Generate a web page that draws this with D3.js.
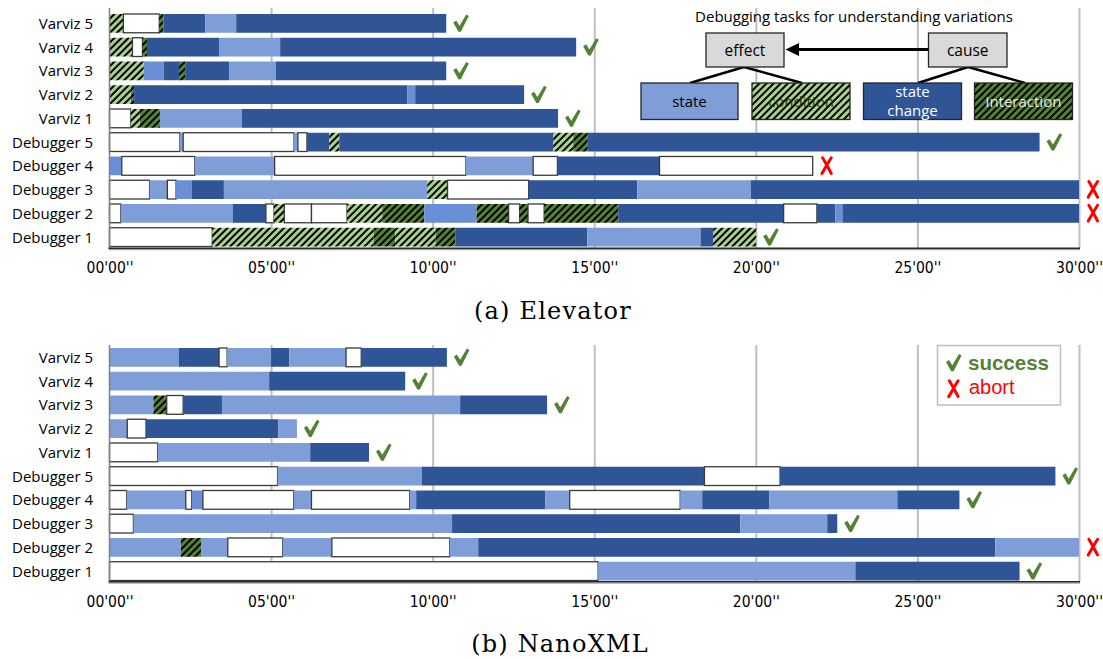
<!DOCTYPE html>
<html>
<head>
<meta charset="utf-8">
<script src="https://cdn.jsdelivr.net/npm/d3@7"></script>
<style>
  html, body { margin: 0; padding: 0; background: #fff; }
  svg { display: block; }
</style>
</head>
<body>
<svg id="chart" width="1103" height="659"></svg>
<script>
// Participants, top to bottom
const rowLabels = ["Varviz 5", "Varviz 4", "Varviz 3", "Varviz 2", "Varviz 1",
                   "Debugger 5", "Debugger 4", "Debugger 3", "Debugger 2", "Debugger 1"];

// Axis ticks in minutes
const tickMinutes = [0, 5, 10, 15, 20, 25, 30];

// Activity kinds: state, stateMid (state, second shade), condition, change (state change),
// interaction, other (no debugging task)
// Each segment: [kind, start minute, end minute]
const elevatorSegments = [
  [["condition",0,0.43],["other",0.43,1.54],["interaction",1.54,1.67],["change",1.67,2.96],["state",2.96,3.92],["change",3.92,10.42]],
  [["condition",0,0.71],["other",0.71,1.02],["interaction",1.02,1.16],["change",1.16,3.39],["state",3.39,5.28],["change",5.28,14.44]],
  [["condition",0,1.06],["stateMid",1.06,1.68],["change",1.68,2.15],["interaction",2.15,2.34],["change",2.34,3.70],["state",3.70,5.15],["change",5.15,10.42]],
  [["condition",0,0.66],["interaction",0.66,0.76],["change",0.76,9.22],["stateMid",9.22,9.46],["change",9.46,12.83]],
  [["other",0,0.66],["condition",0.66,0.94],["interaction",0.94,1.56],["state",1.56,4.10],["change",4.10,13.88]],
  [["other",0,2.18],["state",2.18,2.28],["other",2.28,5.71],["state",5.71,5.83],["other",5.83,6.11],["change",6.11,6.80],["condition",6.80,7.11],["change",7.11,13.73],["condition",13.73,14.35],["interaction",14.35,14.80],["change",14.80,28.78]],
  [["stateMid",0,0.38],["other",0.38,2.64],["state",2.64,5.11],["other",5.11,11.03],["state",11.03,13.11],["other",13.11,13.86],["change",13.86,17.02],["other",17.02,21.76]],
  [["other",0,1.24],["state",1.24,1.79],["other",1.79,2.06],["stateMid",2.06,2.55],["change",2.55,3.54],["state",3.54,9.83],["condition",9.83,10.46],["other",10.46,12.97],["change",12.97,16.33],["state",16.33,19.85],["change",19.85,30]],
  [["other",0,0.35],["state",0.35,3.82],["change",3.82,4.84],["other",4.84,5.09],["condition",5.09,5.41],["other",5.41,6.25],["other",6.25,7.35],["condition",7.35,8.44],["interaction",8.44,9.74],["stateMid",9.74,11.36],["interaction",11.36,12.35],["other",12.35,12.69],["interaction",12.69,12.95],["other",12.95,13.45],["interaction",13.45,15.74],["change",15.74,20.86],["other",20.86,21.89],["change",21.89,22.46],["stateMid",22.46,22.68],["change",22.68,30]],
  [["other",0,3.18],["condition",3.18,8.17],["interaction",8.17,8.84],["condition",8.84,10.09],["interaction",10.09,10.70],["change",10.70,14.78],["state",14.78,18.29],["change",18.29,18.68],["condition",18.68,20.01]]
];
const elevatorOutcomes = ["success","success","success","success","success","success","abort","abort","abort","success"];

const nanoSegments = [
  [["state",0,2.15],["change",2.15,3.39],["other",3.39,3.64],["state",3.64,5.00],["change",5.00,5.56],["state",5.56,7.32],["other",7.32,7.79],["change",7.79,10.44]],
  [["state",0,4.94],["change",4.94,9.15]],
  [["state",0,1.36],["interaction",1.36,1.77],["other",1.77,2.28],["change",2.28,3.48],["state",3.48,10.85],["change",10.85,13.54]],
  [["state",0,0.55],["other",0.55,1.13],["change",1.13,5.22],["state",5.22,5.80]],
  [["other",0,1.49],["state",1.49,6.21],["change",6.21,8.03]],
  [["other",0,5.20],["state",5.20,9.67],["change",9.67,18.41],["other",18.41,20.75],["change",20.75,29.27]],
  [["other",0,0.53],["state",0.53,2.36],["other",2.36,2.54],["stateMid",2.54,2.89],["other",2.89,5.70],["state",5.70,6.25],["other",6.25,9.29],["state",9.29,9.49],["change",9.49,13.48],["state",13.48,14.24],["other",14.24,17.66],["state",17.66,18.34],["change",18.34,20.42],["state",20.42,24.38],["change",24.38,26.30]],
  [["other",0,0.74],["state",0.74,10.60],["change",10.60,19.52],["state",19.52,22.21],["change",22.21,22.52]],
  [["state",0,2.21],["interaction",2.21,2.83],["state",2.83,3.66],["other",3.66,5.36],["state",5.36,6.88],["other",6.88,10.53],["state",10.53,11.41],["change",11.41,27.41],["state",27.41,30]],
  [["other",0,15.12],["state",15.12,23.08],["change",23.08,28.16]]
];
const nanoOutcomes = ["success","success","success","success","success","success","success","success","abort","success"];

const kindFill = {
  state: "#7F9ED7",
  stateMid: "#6A8FD6",
  change: "#2F5597",
  condition: "url(#hatchCondition)",
  interaction: "url(#hatchInteraction)",
  other: "#FFFFFF"
};
const green = "#548235";
const red = "#FF0000";

// Outcome glyphs drawn as paths (about 15 x 17 px, origin at top-left)
const checkPath = "M0,8 L3,6 L6.3,11.2 L13,0 L15.6,1.6 L7.6,17.2 L5.2,17.2 Z";
const crossPath = "M1.8,0.8 C4.5,5 7.5,11 10.6,16.4 M10.6,0.8 C7.2,6 4.6,11 1.2,16.6";

const svg = d3.select("#chart");
const defs = svg.append("defs");

function hatch(id, bg) {
  const p = defs.append("pattern")
    .attr("id", id)
    .attr("patternUnits", "userSpaceOnUse")
    .attr("width", 5).attr("height", 5)
    .attr("patternTransform", "rotate(45)");
  p.append("rect").attr("width", 5).attr("height", 5).attr("fill", bg);
  p.append("line").attr("x1", 1).attr("y1", 0).attr("x2", 1).attr("y2", 5)
    .attr("stroke", "#000").attr("stroke-width", 2);
}
hatch("hatchCondition", "#A9D18E");
hatch("hatchInteraction", "#548235");

function drawMark(sel, outcome) {
  if (outcome === "success") {
    sel.append("path").attr("d", checkPath).attr("fill", green);
  } else {
    sel.append("path").attr("d", crossPath).attr("fill", "none")
      .attr("stroke", red).attr("stroke-width", 3).attr("stroke-linecap", "round");
  }
}

const x = d3.scaleLinear().domain([0, 30]).range([109.5, 1079]);

function fmtTick(m) {
  return d3.format("02d")(m) + "'00''";
}

function drawPanel(opts) {
  const { segments, outcomes, bandTop, bandBottom, axisY, gridTop, caption, captionX, captionY, tickY } = opts;
  const g = svg.append("g");
  const y = d3.scaleBand().domain(rowLabels).range([bandTop, bandBottom])
    .paddingInner(0.21).paddingOuter(0);

  // vertical gridlines
  const grid = g.append("g").attr("transform", `translate(0,${axisY})`)
    .call(d3.axisBottom(x).tickValues(tickMinutes.slice(1)).tickSize(-(axisY - gridTop)).tickFormat(""));
  grid.select(".domain").remove();
  grid.selectAll(".tick line").attr("stroke", "#BFBFBF").attr("stroke-width", 2);

  // bars
  const rows = g.selectAll("g.row").data(segments).join("g").attr("class", "row")
    .attr("transform", (d, i) => `translate(0,${y(rowLabels[i])})`);

  rows.selectAll("rect").data(d => d).join("rect")
    .attr("x", d => x(d[1]))
    .attr("width", d => x(d[2]) - x(d[1]))
    .attr("y", 0)
    .attr("height", y.bandwidth())
    .attr("fill", d => kindFill[d[0]])
    .attr("stroke", d => d[0] === "other" ? "#3A3A3A" : "none")
    .attr("stroke-width", 1.3);

  // outcome marks
  rows.each(function(d, i) {
    const end = x(d3.max(d, s => s[2]));
    const m = d3.select(this).append("g")
      .attr("transform", `translate(${end + (outcomes[i] === "success" ? 7 : 8)},0.5)`);
    drawMark(m, outcomes[i]);
  });

  // row labels
  g.selectAll("text.rowlabel").data(rowLabels).join("text").attr("class", "rowlabel")
    .attr("x", 93)
    .attr("y", d => y(d) + y.bandwidth() / 2)
    .attr("dy", "0.36em")
    .attr("text-anchor", "end")
    .attr("font-family", "Open Sans, sans-serif")
    .attr("font-size", 15)
    .attr("fill", "#000")
    .text(d => d);

  // left axis and baseline
  g.append("line").attr("x1", 109.5).attr("x2", 109.5).attr("y1", gridTop).attr("y2", axisY)
    .attr("stroke", "#7F7F7F").attr("stroke-width", 1.5);
  g.append("line").attr("x1", 108.5).attr("x2", 1080).attr("y1", axisY + 1.2).attr("y2", axisY + 1.2)
    .attr("stroke", "#A6A6A6").attr("stroke-width", 1.2);
  g.append("line").attr("x1", 108.5).attr("x2", 1080).attr("y1", axisY - 0.3).attr("y2", axisY - 0.3)
    .attr("stroke", "#262626").attr("stroke-width", 1.6);

  // tick labels
  const ax = g.append("g").attr("transform", `translate(0,${tickY})`)
    .call(d3.axisBottom(x).tickValues(tickMinutes).tickSize(0).tickPadding(0).tickFormat(fmtTick));
  ax.select(".domain").remove();
  ax.selectAll("text")
    .attr("font-family", "'Liberation Sans Narrow', 'DejaVu Sans Condensed', sans-serif")
    .attr("font-size", 15.5)
    .attr("fill", "#000");

  // caption
  svg.append("text")
    .attr("x", captionX).attr("y", captionY)
    .attr("text-anchor", "middle")
    .attr("font-family", "'DejaVu Serif', serif")
    .attr("font-size", 24)
    .attr("letter-spacing", 1.2)
    .attr("fill", "#000")
    .text(caption);
}

drawPanel({
  segments: elevatorSegments, outcomes: elevatorOutcomes,
  bandTop: 14, bandBottom: 246.5, axisY: 248.5, gridTop: 8,
  tickY: 262, caption: "(a) Elevator", captionX: 553, captionY: 319
});
drawPanel({
  segments: nanoSegments, outcomes: nanoOutcomes,
  bandTop: 348, bandBottom: 580.5, axisY: 582, gridTop: 345,
  tickY: 596, caption: "(b) NanoXML", captionX: 560, captionY: 652
});

// Task taxonomy diagram (top panel)
const tax = svg.append("g").attr("font-family", "Open Sans, sans-serif");
tax.append("text").attr("x", 854).attr("y", 22).attr("text-anchor", "middle")
  .attr("font-size", 15).attr("fill", "#000").text("Debugging tasks for understanding variations");

const connectors = [
  [744, 67, 690, 83], [744, 67, 802, 83],
  [968, 67, 918, 83], [968, 67, 1025, 83]
];
tax.selectAll("line.conn").data(connectors).join("line").attr("class", "conn")
  .attr("x1", d => d[0]).attr("y1", d => d[1]).attr("x2", d => d[2]).attr("y2", d => d[3])
  .attr("stroke", "#000").attr("stroke-width", 2.5);

const headBoxes = [
  { label: "effect", x0: 706, x1: 784 },
  { label: "cause", x0: 928.5, x1: 1007 }
];
tax.selectAll("rect.head").data(headBoxes).join("rect").attr("class", "head")
  .attr("x", d => d.x0).attr("y", 33).attr("width", d => d.x1 - d.x0).attr("height", 34)
  .attr("fill", "#D9D9D9").attr("stroke", "#262626").attr("stroke-width", 1.3);
tax.selectAll("text.head").data(headBoxes).join("text").attr("class", "head")
  .attr("x", d => (d.x0 + d.x1) / 2).attr("y", 50).attr("dy", "0.36em")
  .attr("text-anchor", "middle").attr("font-size", 15.5).attr("fill", "#000").text(d => d.label);

// arrow from cause to effect
tax.append("line").attr("x1", 928.5).attr("x2", 796).attr("y1", 49.5).attr("y2", 49.5)
  .attr("stroke", "#000").attr("stroke-width", 3);
tax.append("path").attr("d", "M785.5,49.5 L799,43 L799,56 Z").attr("fill", "#000");

const kindBoxes = [
  { kind: "state", lines: ["state"], x0: 641, x1: 738, color: "#000" },
  { kind: "condition", lines: ["condition"], x0: 752, x1: 850, color: "#1F3A10" },
  { kind: "change", lines: ["state", "change"], x0: 863.5, x1: 961.5, color: "#FFFFFF" },
  { kind: "interaction", lines: ["interaction"], x0: 974.5, x1: 1072.5, color: "#E8E8E8" }
];
tax.selectAll("rect.kind").data(kindBoxes).join("rect").attr("class", "kind")
  .attr("x", d => d.x0).attr("y", 83).attr("width", d => d.x1 - d.x0).attr("height", 36.5)
  .attr("fill", d => kindFill[d.kind]).attr("stroke", "#262626").attr("stroke-width", 1.3);
kindBoxes.forEach(d => {
  const n = d.lines.length;
  d.lines.forEach((t, i) => {
    tax.append("text")
      .attr("x", (d.x0 + d.x1) / 2)
      .attr("y", 101.5 + (i - (n - 1) / 2) * 19)
      .attr("dy", "0.36em")
      .attr("text-anchor", "middle").attr("font-size", 15).attr("fill", d.color).text(t);
  });
});

// Outcome legend (bottom panel)
const leg = svg.append("g");
leg.append("rect").attr("x", 937.5).attr("y", 345.5).attr("width", 123).attr("height", 59.5)
  .attr("fill", "#fff").attr("stroke", "#BFBFBF").attr("stroke-width", 1.5);
drawMark(leg.append("g").attr("transform", "translate(946,354)"), "success");
leg.append("text").attr("x", 968).attr("y", 370).attr("font-family", "Liberation Sans, Arial, sans-serif")
  .attr("font-weight", "bold").attr("font-size", 20.5).attr("fill", green).text("success");
drawMark(leg.append("g").attr("transform", "translate(947.5,380)"), "abort");
leg.append("text").attr("x", 969).attr("y", 394).attr("font-family", "Liberation Sans, Arial, sans-serif")
  .attr("font-size", 20).attr("fill", red).text("abort");
</script>
</body>
</html>
